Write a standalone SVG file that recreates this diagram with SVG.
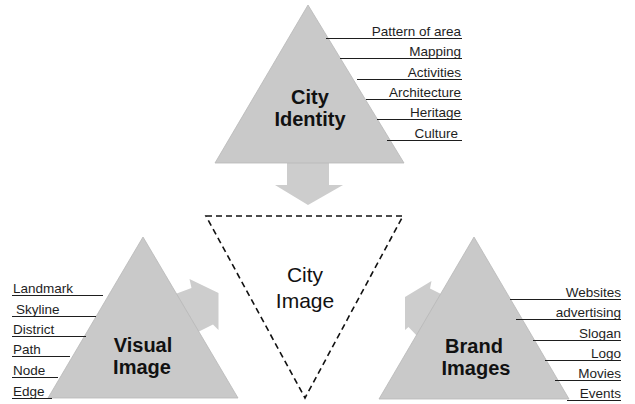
<svg xmlns="http://www.w3.org/2000/svg" width="635" height="404" viewBox="0 0 635 404">
<style>
.tri{fill:#c9c9c9;stroke:#b8b8b8;stroke-width:0.8}
.arr{fill:#cdcdcd}
.ln{stroke:#1e1e1e;stroke-width:1}
.lb{font-family:"Liberation Sans",Arial,sans-serif;font-size:13.5px;fill:#1e1e1e}
.big{font-family:"Liberation Sans",Arial,sans-serif;font-size:20px;font-weight:bold;fill:#111;text-anchor:middle}
.mid{font-family:"Liberation Sans",Arial,sans-serif;font-size:21px;fill:#111;text-anchor:middle}
</style>
<rect width="635" height="404" fill="#fff"/>
<g id="connectors">
<polygon class="arr" points="287,160 329,160 329,185 343,185 308,205 275,185 287,185"/>
<polygon class="arr" points="170,296 191.5,288 189.5,279 218.5,293 218.5,330 213,324.5 194,334"/>
<polygon class="arr" points="447,297 430,288.5 431.5,281 405,297 405,330 408.5,327 420,339"/>
</g>
<g id="city-identity">
<polygon class="tri" points="308,5 404,163 215,163"/>
<text class="big" x="310" y="104">City</text>
<text class="big" x="310" y="126">Identity</text>
<g class="lb" text-anchor="end">
<text x="461" y="35.5">Pattern of area</text>
<text x="461" y="55.5">Mapping</text>
<text x="461" y="76.5">Activities</text>
<text x="461" y="96.5">Architecture</text>
<text x="461" y="116.5">Heritage</text>
<text x="458" y="137.5">Culture</text>
</g>
<line class="ln" x1="326" y1="38.5" x2="462" y2="38.5"/>
<line class="ln" x1="340" y1="58.5" x2="462" y2="58.5"/>
<line class="ln" x1="357" y1="79.5" x2="462" y2="79.5"/>
<line class="ln" x1="366" y1="99.5" x2="462" y2="99.5"/>
<line class="ln" x1="377" y1="119.5" x2="462" y2="119.5"/>
<line class="ln" x1="387" y1="140.5" x2="462" y2="140.5"/>
</g>
<g id="city-image">
<polygon points="206,216 403,216 305,398" fill="none" stroke="#111" stroke-width="1.6" stroke-dasharray="6,4"/>
<text class="mid" x="305" y="282">City</text>
<text class="mid" x="305" y="308">Image</text>
</g>
<g id="visual-image">
<polygon class="tri" points="143,237 238,398 48,398"/>
<text class="big" x="143" y="352">Visual</text>
<text class="big" x="142" y="374">Image</text>
<g class="lb">
<text x="13" y="292.5">Landmark</text>
<text x="16" y="313.5">Skyline</text>
<text x="13" y="333.5">District</text>
<text x="13" y="353.5">Path</text>
<text x="13" y="374.5">Node</text>
<text x="13" y="395.5">Edge</text>
</g>
<line class="ln" x1="12" y1="295.5" x2="103" y2="295.5"/>
<line class="ln" x1="12" y1="316.5" x2="96" y2="316.5"/>
<line class="ln" x1="12" y1="336.5" x2="86" y2="336.5"/>
<line class="ln" x1="12" y1="356.5" x2="70" y2="356.5"/>
<line class="ln" x1="12" y1="377.5" x2="58" y2="377.5"/>
<line class="ln" x1="12" y1="398.5" x2="52" y2="398.5"/>
</g>
<g id="brand-images">
<polygon class="tri" points="474,237 569,399 379,399"/>
<text class="big" x="474" y="353">Brand</text>
<text class="big" x="476" y="375">Images</text>
<g class="lb" text-anchor="end">
<text x="621" y="296.5">Websites</text>
<text x="621" y="316.5">advertising</text>
<text x="621" y="337.5">Slogan</text>
<text x="621" y="357.5">Logo</text>
<text x="621" y="377.5">Movies</text>
<text x="621" y="397.5">Events</text>
</g>
<line class="ln" x1="510" y1="299.5" x2="621" y2="299.5"/>
<line class="ln" x1="516" y1="319.5" x2="621" y2="319.5"/>
<line class="ln" x1="533" y1="340.5" x2="621" y2="340.5"/>
<line class="ln" x1="545" y1="360.5" x2="621" y2="360.5"/>
<line class="ln" x1="555" y1="380.5" x2="621" y2="380.5"/>
<line class="ln" x1="567" y1="400.5" x2="621" y2="400.5"/>
</g>
</svg>
